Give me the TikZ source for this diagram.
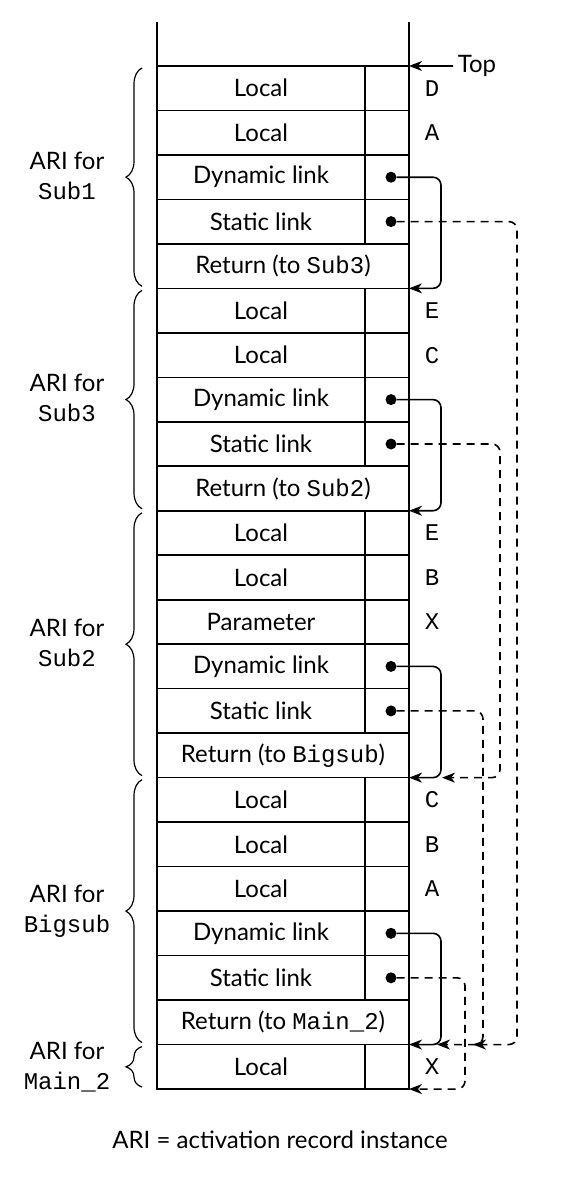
\documentclass[tikz,border=0pt]{standalone}
\usepackage{fontspec}
\setmainfont{Lato}
\setmonofont{Liberation Mono}
\usetikzlibrary{calc,arrows.meta,decorations.pathreplacing}

\begin{document}
\begin{tikzpicture}[x=0.5pt, y=-0.5pt, line width=0.8pt,
        every node/.style={font=\fontsize{12}{15}\selectfont},
        cell/.style={rectangle, draw, inner sep=0pt, outer sep=0pt, minimum width=104pt, minimum height=22.24pt},
        slot/.style={rectangle, draw, inner sep=0pt, outer sep=0pt, minimum width=22pt, minimum height=22.24pt},
        wide/.style={rectangle, draw, inner sep=0pt, outer sep=0pt, minimum width=126pt, minimum height=22.24pt},
        ptrdot/.style={circle, fill, inner sep=0pt, outer sep=0pt, minimum size=5.5pt},
        varname/.style={font=\fontsize{12}{15}\selectfont\ttfamily},
        dynlink/.style={-{Stealth[length=6.5pt,width=5pt,inset=2pt]}, rounded corners=4pt},
        statlink/.style={dynlink, dash pattern=on 4pt off 3pt},
        aribrace/.style={decorate, decoration={brace, amplitude=8pt}, line width=0.6pt},
        arilabel/.style={align=center}]
        \useasboundingbox (0,0) rectangle (562,1200);
        % ARI for Sub1
        \node[cell] (c1) at (261,88.2) {Local};
        \node[slot] (s1) at (387,88.2) {};
        \node[varname] (v1) at (432,88.2) {D};
        \node[cell] (c2) at (261,132.7) {Local};
        \node[slot] (s2) at (387,132.7) {};
        \node[varname] (v2) at (432,132.7) {A};
        \node[cell] (c3) at (261,177.2) {Dynamic link};
        \node[slot] (s3) at (387,177.2) {};
        \node[ptrdot] (d3) at (391,177.2) {};
        \node[cell] (c4) at (261,221.6) {Static link};
        \node[slot] (s4) at (387,221.6) {};
        \node[ptrdot] (d4) at (391,221.6) {};
        \node[wide] (c5) at (283,266.1) {Return (to \texttt{Sub3})};
        % ARI for Sub3
        \node[cell] (c6) at (261,310.6) {Local};
        \node[slot] (s6) at (387,310.6) {};
        \node[varname] (v6) at (432,310.6) {E};
        \node[cell] (c7) at (261,355.1) {Local};
        \node[slot] (s7) at (387,355.1) {};
        \node[varname] (v7) at (432,355.1) {C};
        \node[cell] (c8) at (261,399.6) {Dynamic link};
        \node[slot] (s8) at (387,399.6) {};
        \node[ptrdot] (d8) at (391,399.6) {};
        \node[cell] (c9) at (261,444.0) {Static link};
        \node[slot] (s9) at (387,444.0) {};
        \node[ptrdot] (d9) at (391,444.0) {};
        \node[wide] (c10) at (283,488.5) {Return (to \texttt{Sub2})};
        % ARI for Sub2
        \node[cell] (c11) at (261,533.0) {Local};
        \node[slot] (s11) at (387,533.0) {};
        \node[varname] (v11) at (432,533.0) {E};
        \node[cell] (c12) at (261,577.5) {Local};
        \node[slot] (s12) at (387,577.5) {};
        \node[varname] (v12) at (432,577.5) {B};
        \node[cell] (c13) at (261,622.0) {Parameter};
        \node[slot] (s13) at (387,622.0) {};
        \node[varname] (v13) at (432,622.0) {X};
        \node[cell] (c14) at (261,666.4) {Dynamic link};
        \node[slot] (s14) at (387,666.4) {};
        \node[ptrdot] (d14) at (391,666.4) {};
        \node[cell] (c15) at (261,710.9) {Static link};
        \node[slot] (s15) at (387,710.9) {};
        \node[ptrdot] (d15) at (391,710.9) {};
        \node[wide] (c16) at (283,755.4) {Return (to \texttt{Bigsub})};
        % ARI for Bigsub
        \node[cell] (c17) at (261,799.9) {Local};
        \node[slot] (s17) at (387,799.9) {};
        \node[varname] (v17) at (432,799.9) {C};
        \node[cell] (c18) at (261,844.4) {Local};
        \node[slot] (s18) at (387,844.4) {};
        \node[varname] (v18) at (432,844.4) {B};
        \node[cell] (c19) at (261,888.8) {Local};
        \node[slot] (s19) at (387,888.8) {};
        \node[varname] (v19) at (432,888.8) {A};
        \node[cell] (c20) at (261,933.3) {Dynamic link};
        \node[slot] (s20) at (387,933.3) {};
        \node[ptrdot] (d20) at (391,933.3) {};
        \node[cell] (c21) at (261,977.8) {Static link};
        \node[slot] (s21) at (387,977.8) {};
        \node[ptrdot] (d21) at (391,977.8) {};
        \node[wide] (c22) at (283,1022.3) {Return (to \texttt{Main\_2})};
        % ARI for Main_2
        \node[cell] (c23) at (261,1066.8) {Local};
        \node[slot] (s23) at (387,1066.8) {};
        \node[varname] (v23) at (432,1066.8) {X};
        % stack walls above the top
        \draw (c1.north west) -- ++(0,-44);
        \draw (s1.north east) -- ++(0,-44);
        \node[inner sep=2pt] (top) at (477,66) {Top};
        \draw[dynlink] (top) -- (s1.north east);
        % dynamic links
        \draw[dynlink] (d3) -| ($(c5.south east)+(32,0)$) -- (c5.south east);
        \draw[dynlink] (d8) -| ($(c10.south east)+(32,0)$) -- (c10.south east);
        \draw[dynlink] (d14) -| ($(c16.south east)+(32,0)$) -- (c16.south east);
        \draw[dynlink] (d20) -| ($(c22.south east)+(32,0)$) -- (c22.south east);
        % static links
        \draw[statlink] (d4) -| ($(c22.south east)+(108,0)$) -- ($(c22.south east)+(64,0)$);
        \draw[statlink] (d9) -| ($(c16.south east)+(91,0)$) -- ($(c16.south east)+(33,0)$);
        \draw[statlink] (d15) -| ($(c22.south east)+(74,0)$) -- ($(c22.south east)+(28,0)$);
        \draw[statlink] (d21) -| ($(s23.south east)+(56,0)$) -- (s23.south east);
        % braces and labels
        \draw[aribrace] ($(c5.south west)+(-15,-2)$) -- ($(c1.north west)+(-15,2)$);
        \draw[aribrace] ($(c10.south west)+(-15,-2)$) -- ($(c6.north west)+(-15,2)$);
        \draw[aribrace] ($(c16.south west)+(-15,-2)$) -- ($(c11.north west)+(-15,2)$);
        \draw[aribrace] ($(c22.south west)+(-15,-2)$) -- ($(c17.north west)+(-15,2)$);
        \draw[aribrace] ($(c23.south west)+(-15,-2)$) -- ($(c23.north west)+(-15,2)$);
        \node[arilabel] (aSub1) at (67,176) {ARI for\\\texttt{Sub1}};
        \node[arilabel] (aSub3) at (67,398) {ARI for\\\texttt{Sub3}};
        \node[arilabel] (aSub2) at (67,643) {ARI for\\\texttt{Sub2}};
        \node[arilabel] (aBigsub) at (67,911) {ARI for\\\texttt{Bigsub}};
        \node[arilabel] (aMain) at (67,1067) {ARI for\\\texttt{Main\_2}};
        \node (note) at (280,1140) {ARI = activation record instance};
    \end{tikzpicture}
\end{document}
